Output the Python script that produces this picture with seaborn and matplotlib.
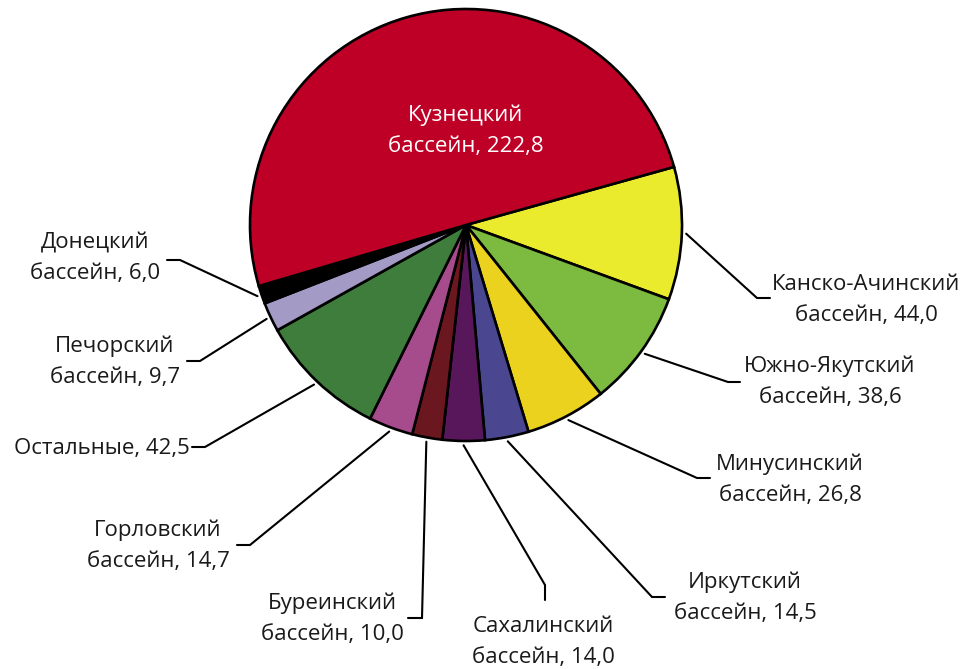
import matplotlib
matplotlib.use('Agg')
import matplotlib.pyplot as plt
import numpy as np
import seaborn as sns

# Coal reserves by basin (values as shown on the chart)
basins = ['Канско-Ачинский', 'Южно-Якутский', 'Минусинский', 'Иркутский',
          'Сахалинский', 'Буреинский', 'Горловский', 'Остальные',
          'Печорский', 'Донецкий', 'Кузнецкий']
values = [44.0, 38.6, 26.8, 14.5, 14.0, 10.0, 14.7, 42.5, 9.7, 6.0, 222.8]
colors = ['#EBEB2D', '#7CBA40', '#EBD21E', '#4A4690', '#58175A', '#6B1720',
          '#A64B8C', '#3E7D3C', '#A39BC6', '#000000', '#BE0027']

sns.set_theme(style='white')
plt.rcParams['font.family'] = ['Open Sans', 'DejaVu Sans']

W, H = 979, 669
CX, CY, R = 466, 225, 216   # pie centre and radius in pixels
FS = 16

fig = plt.figure(figsize=(W / 100, H / 100), dpi=100)
ax = fig.add_axes([0, 0, 1, 1])

wedges, _ = ax.pie(values, colors=colors, startangle=15.6, counterclock=False,
                   radius=1, center=(0, 0),
                   wedgeprops=dict(edgecolor='black', linewidth=1.9))

ax.set_xlim(-CX / R, (W - CX) / R)
ax.set_ylim((CY - H) / R, CY / R)
ax.set_aspect('equal')
ax.axis('off')


def px(x, y):
    return (x - CX) / R, (CY - y) / R


def fmt(v):
    return ('%.1f' % v).replace('.', ',')


# label layout: elbow point, end point, text centre (pixels)
layout = {
    'Канско-Ачинский': ((757, 298), (770, 298), (866, 300)),
    'Южно-Якутский': ((728, 382), (740, 382), (830, 382)),
    'Минусинский': ((697, 478), (710, 478), (790, 480)),
    'Иркутский': ((652, 597), (665, 597), (745, 598)),
    'Сахалинский': ((545, 585), (545, 600), (543, 642)),
    'Буреинский': ((422, 618), (408, 618), (332, 619)),
    'Горловский': ((250, 545), (237, 545), (158, 546)),
    'Остальные': ((205, 447), (192, 447), (102, 448)),
    'Печорский': ((200, 361), (187, 361), (115, 362)),
    'Донецкий': ((180, 260), (167, 260), (95, 258)),
}

for w, name, v in zip(wedges, basins, values):
    if name == 'Кузнецкий':
        tx, ty = px(466, 131)
        ax.text(tx, ty, '%s\nбассейн, %s' % (name, fmt(v)), color='white',
                ha='center', va='center', fontsize=FS, linespacing=1.6)
        continue
    mid = np.deg2rad((w.theta1 + w.theta2) / 2)
    sx, sy = 1.02 * np.cos(mid), 1.02 * np.sin(mid)
    elbow, end, tpos = layout[name]
    ex, ey = px(*elbow)
    fx, fy = px(*end)
    ax.plot([sx, ex, fx], [sy, ey, fy], color='black', lw=1.5,
            solid_joinstyle='miter')
    if name == 'Остальные':
        label = '%s, %s' % (name, fmt(v))
    else:
        label = '%s\nбассейн, %s' % (name, fmt(v))
    tx, ty = px(*tpos)
    ax.text(tx, ty, label, color='#1a1a1a', ha='center', va='center',
            fontsize=FS, linespacing=1.6, multialignment='center')

plt.savefig('out.png', dpi=100)
